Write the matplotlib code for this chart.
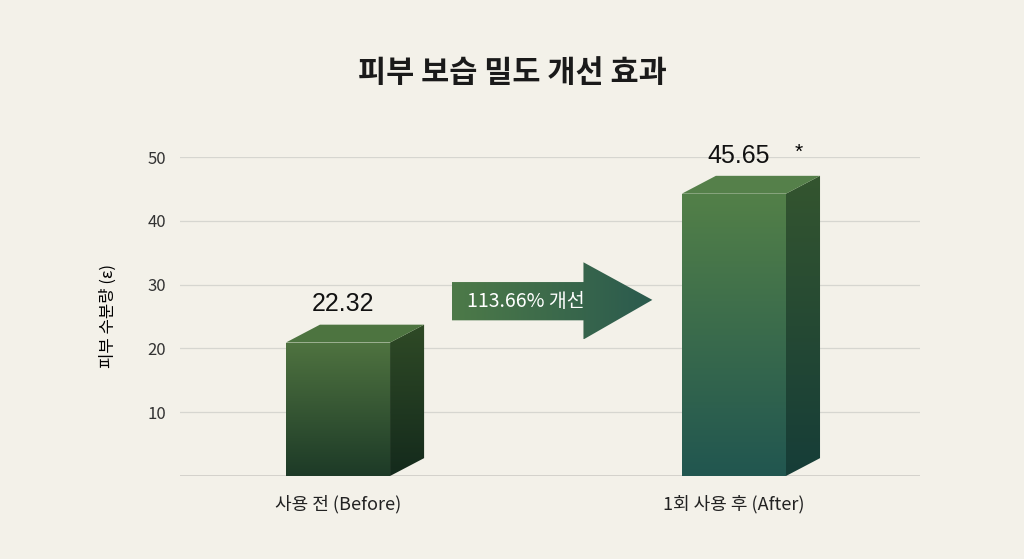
import numpy as np
import matplotlib
matplotlib.use("Agg")
import matplotlib.pyplot as plt
from matplotlib.patches import Polygon
from matplotlib.colors import LinearSegmentedColormap

plt.rcParams['font.family'] = ['Noto Sans CJK KR', 'DejaVu Sans']

title = "피부 보습 밀도 개선 효과"
categories = ["사용 전 (Before)", "1회 사용 후 (After)"]
values = [22.32, 45.65]
value_labels = ["22.32", "45.65"]
yticks = [10, 20, 30, 40, 50]
ylabel = "피부 수분량 (ε)"
arrow_text = "113.66% 개선"

fig = plt.figure(figsize=(10.24, 5.59), dpi=100, facecolor="#f3f1e9")

ax = fig.add_axes([180/1024, 83/559, 740/1024, 319/559])
ax.patch.set_alpha(0)
for s in ax.spines.values():
    s.set_visible(False)
ax.axhline(0, color="#555555", lw=1)
for t in yticks:
    ax.axhline(t, color="#d6d6d0", lw=0.9, zorder=0)
ax.set_yticks(yticks)
ax.tick_params(axis='y', length=0, labelsize=12, colors="#333333", pad=10)
ax.set_xticks([0, 1])
ax.set_xticklabels(categories, fontsize=13, color="#222222")
ax.tick_params(axis='x', length=0, pad=14)
ax.set_ylabel(ylabel, fontsize=12, labelpad=22)

w = 0.263
dx = 0.086
dy = 2.8
front_cols = [("#4f7340", "#1d3a27"), ("#538048", "#215650")]
side_cols = [("#2f4a26", "#142a1c"), ("#34552f", "#163d38")]
top_cols = ["#4d7440", "#55804a"]

def grad_fill(poly, c_top, c_bot, y0, y1, z):
    ax.add_patch(poly)
    poly.set_facecolor('none'); poly.set_edgecolor('none')
    cm = LinearSegmentedColormap.from_list("c", [c_bot, c_top])
    xs = poly.get_xy()[:, 0]
    im = ax.imshow(np.linspace(0, 1, 256).reshape(-1, 1), cmap=cm, origin='lower',
                   aspect='auto', extent=[xs.min(), xs.max(), y0, y1], zorder=z)
    im.set_clip_path(poly)

for i, v in enumerate(values):
    x0, x1 = i - w/2, i + w/2
    ft = v - dy/2
    side = Polygon([[x1, 0], [x1 + dx, dy], [x1 + dx, ft + dy], [x1, ft]], closed=True, clip_on=False)
    grad_fill(side, side_cols[i][0], side_cols[i][1], 0, ft + dy, 2)
    front = Polygon([[x0, 0], [x1, 0], [x1, ft], [x0, ft]], closed=True, clip_on=False)
    grad_fill(front, front_cols[i][0], front_cols[i][1], 0, ft, 3)
    top = Polygon([[x0, ft], [x1, ft], [x1 + dx, ft + dy], [x0 + dx, ft + dy]], closed=True,
                  facecolor=top_cols[i], edgecolor='none', zorder=4, clip_on=False)
    ax.add_patch(top)
    ax.text(i + dx/2 - 0.03, ft + dy + 1.3, value_labels[i], ha='center', va='bottom',
            fontsize=18, color="#111111", family=['Liberation Sans'])
ax.text(1 + dx/2 + 0.11, values[1] + 3.6, "*", fontsize=15, ha='left', va='bottom',
        family=['Liberation Sans'])

pts = [[0.288, 30.4], [0.62, 30.4], [0.62, 33.5], [0.794, 27.6],
       [0.62, 21.4], [0.62, 24.4], [0.288, 24.4]]
arr = Polygon(pts, closed=True, facecolor='none', edgecolor='none', clip_on=False)
ax.add_patch(arr)
cm = LinearSegmentedColormap.from_list("a", ["#4d7a48", "#2b5a4e"])
im = ax.imshow(np.linspace(0, 1, 256).reshape(1, -1), cmap=cm, aspect='auto',
               extent=[0.288, 0.794, 21.4, 33.5], zorder=5)
im.set_clip_path(arr)
ax.text(0.475, 27.4, arrow_text, ha='center', va='center', color='white', fontsize=14,
        fontweight='medium', zorder=6)
ax.set_xlim(-0.399, 1.47)
ax.set_ylim(0, 50)

fig.text(0.5, 1 - 73/559, title, ha='center', va='center', fontsize=22, fontweight='bold', color="#1a1a1a")
fig.savefig("out.png", dpi=100, facecolor=fig.get_facecolor())
